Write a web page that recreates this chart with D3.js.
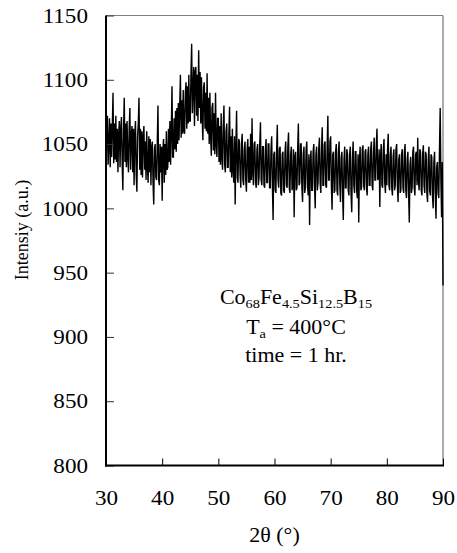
<!DOCTYPE html>
<html>
<head>
<meta charset="utf-8">
<script src="https://cdn.jsdelivr.net/npm/d3@7"></script>
<style>
  body { margin: 0; background: #fff; }
  svg { display: block; }
  text, tspan { font-family: "Liberation Serif", "Times New Roman", serif; fill: #000; }
</style>
</head>
<body>
<svg></svg>
<script>
// scan: 2theta from 30 to 90 in 0.125 deg steps
const scanStart = 30;
const scanStep = 0.125;

// intensity, one row per degree (8 readings per degree)
const intensity = [
  1025, 1066, 1072, 1034, 1050, 1070, 1032, 1066,  // 30
  1040, 1064, 1090, 1035, 1066, 1038, 1072, 1036,  // 31
  1062, 1028, 1058, 1068, 1032, 1062, 1071, 1036,  // 32
  1014, 1062, 1086, 1036, 1066, 1032, 1068, 1040,  // 33
  1028, 1062, 1078, 1030, 1056, 1064, 1028, 1062,  // 34
  1018, 1058, 1068, 1026, 1013, 1056, 1066, 1086,  // 35
  1030, 1062, 1026, 1060, 1024, 1056, 1064, 1030,  // 36
  1052, 1022, 1060, 1032, 1020, 1056, 1028, 1054,  // 37
  1018, 1048, 1052, 1020, 1003, 1046, 1050, 1024,  // 38
  1022, 1050, 1080, 1022, 1018, 1050, 1028, 1048,  // 39
  1006, 1046, 1054, 1020, 1050, 1026, 1060, 1030,  // 40
  1032, 1062, 1036, 1068, 1034, 1060, 1095, 1040,  // 41
  1040, 1070, 1046, 1076, 1044, 1078, 1050, 1082,  // 42
  1053, 1080, 1104, 1055, 1084, 1058, 1092, 1060,  // 43
  1058, 1090, 1098, 1062, 1095, 1066, 1104, 1068,  // 44
  1068, 1104, 1128, 1074, 1092, 1110, 1064, 1106,  // 45
  1110, 1072, 1104, 1068, 1123, 1078, 1106, 1066,  // 46
  1102, 1070, 1053, 1094, 1098, 1062, 1090, 1060,  // 47
  1105, 1058, 1086, 1050, 1090, 1056, 1041, 1078,  // 48
  1082, 1045, 1074, 1042, 1090, 1050, 1040, 1070,  // 49
  1070, 1036, 1064, 1034, 1074, 1040, 1030, 1064,  // 50
  1080, 1034, 1028, 1060, 1066, 1032, 1032, 1058,  // 51
  1079, 1028, 1056, 1024, 1062, 1030, 1020, 1056,  // 52
  1003, 1048, 1076, 1024, 1020, 1054, 1052, 1026,  // 53
  1016, 1050, 1058, 1022, 1018, 1046, 1052, 1022,  // 54
  1013, 1046, 1054, 1020, 1048, 1020, 1058, 1022,  // 55
  1070, 1028, 1018, 1050, 1052, 1020, 1016, 1046,  // 56
  1050, 1018, 1024, 1050, 1067, 1022, 1018, 1048,  // 57
  1048, 1018, 1016, 1046, 1054, 1020, 1020, 1050,  // 58
  1050, 1016, 1016, 1046, 1056, 1018, 991, 1042,   // 59
  1044, 1014, 1012, 1044, 1065, 1022, 1016, 1046,  // 60
  1048, 1012, 1010, 1042, 1044, 1014, 1012, 1044,  // 61
  1052, 1018, 1016, 1048, 1059, 1016, 1012, 1042,  // 62
  1048, 1014, 1018, 1046, 993, 1040, 1044, 1014,   // 63
  1016, 1046, 1066, 1018, 1020, 1050, 1050, 1016,  // 64
  1005, 1042, 1048, 1012, 1016, 1046, 1052, 1018,  // 65
  1010, 1042, 987, 1036, 1045, 1014, 1014, 1044,   // 66
  1050, 1018, 1000, 1042, 1048, 1014, 1020, 1046,  // 67
  1055, 1020, 1012, 1046, 1063, 1018, 1018, 1050,  // 68
  1052, 1018, 1016, 1048, 1072, 1022, 1022, 1052,  // 69
  1056, 1018, 999, 1042, 1044, 1012, 1014, 1044,   // 70
  1050, 1014, 1010, 1044, 1052, 1018, 1005, 1040,  // 71
  1044, 1012, 991, 1038, 1048, 1016, 1016, 1046,   // 72
  1042, 1014, 1010, 1042, 1048, 1012, 997, 1038,   // 73
  1052, 1018, 1012, 1044, 1044, 1014, 1008, 1042,  // 74
  989, 1038, 1048, 1014, 1016, 1046, 1049, 1018,   // 75
  1014, 1044, 1046, 1016, 1010, 1042, 1048, 1018,  // 76
  1018, 1046, 1052, 1018, 1014, 1044, 1055, 1022,  // 77
  1022, 1050, 1062, 1022, 1024, 1046, 1001, 1040,  // 78
  1050, 1018, 1016, 1046, 1054, 1020, 1012, 1042,  // 79
  1018, 1046, 1058, 1018, 1014, 1042, 1048, 1016,  // 80
  1010, 1040, 1046, 1014, 1018, 1046, 1050, 1018,  // 81
  1005, 1038, 1042, 1012, 1014, 1042, 1046, 1016,  // 82
  1012, 1044, 1050, 1014, 1008, 1038, 1044, 1012,  // 83
  989, 1034, 1040, 1012, 1016, 1044, 1048, 1016,   // 84
  1010, 1042, 1044, 1018, 1055, 1022, 1014, 1046,  // 85
  1044, 1014, 1010, 1042, 1049, 1018, 1012, 1044,  // 86
  1042, 1012, 1005, 1038, 1048, 1014, 1010, 1042,  // 87
  1040, 1010, 1000, 1036, 1044, 1012, 992, 1032,   // 88
  1036, 1012, 1008, 1046, 1078, 1022, 993, 1036,   // 89
  940                                              // 90
];

const xTicks = [30, 40, 50, 60, 70, 80, 90];
const yTicks = [800, 850, 900, 950, 1000, 1050, 1100, 1150];

const width = 457;
const height = 553;
const plot = { left: 106, right: 443, top: 15.5, bottom: 465.5 };
const stretch = "scale(1.1,1)"; // the reference type is a bit wide
const serif = "'Liberation Serif', 'Times New Roman', serif";

const svg = d3.select("svg").attr("width", width).attr("height", height);

const xScale = d3.scaleLinear().domain([30, 90]).range([plot.left, plot.right]);
const yScale = d3.scaleLinear().domain([800, 1150]).range([plot.bottom, plot.top]);

const data = intensity.map((v, i) => [scanStart + i * scanStep, v]);

// top and right frame (thin, gray)
svg.append("line")
  .attr("x1", plot.left).attr("x2", plot.right)
  .attr("y1", plot.top).attr("y2", plot.top)
  .attr("stroke", "#808080").attr("stroke-width", 1);
svg.append("line")
  .attr("x1", plot.right).attr("x2", plot.right)
  .attr("y1", plot.top).attr("y2", plot.bottom)
  .attr("stroke", "#808080").attr("stroke-width", 1.3);

// the scan
const line = d3.line()
  .x((d) => xScale(d[0]))
  .y((d) => yScale(d[1]));

svg.append("path")
  .datum(data)
  .attr("fill", "none")
  .attr("stroke", "#000")
  .attr("stroke-width", 1.4)
  .attr("d", line);

// axes, ticks pointing inward
const yAxis = d3.axisLeft(yScale).tickValues(yTicks).tickFormat(d3.format("d"))
  .tickSize(-8).tickPadding(16.4);
const xAxis = d3.axisBottom(xScale).tickValues(xTicks).tickFormat(d3.format("d"))
  .tickSize(-7).tickPadding(25);

const gy = svg.append("g")
  .attr("transform", "translate(" + plot.left + ",0)")
  .call(yAxis)
  .attr("font-family", serif);
gy.select(".domain").remove();
gy.selectAll(".tick line").attr("stroke", "#333").attr("stroke-width", 1);
gy.selectAll(".tick text")
  .style("font-family", serif)
  .style("font-size", "21px")
  .style("fill", "#000")
  .attr("transform", stretch);

const gx = svg.append("g")
  .attr("transform", "translate(0," + plot.bottom + ")")
  .call(xAxis)
  .attr("font-family", serif);
gx.select(".domain").remove();
gx.selectAll(".tick line").attr("stroke", "#000").attr("stroke-width", 1);
gx.selectAll(".tick text")
  .style("font-family", serif)
  .style("font-size", "21px")
  .style("fill", "#000")
  .attr("transform", stretch);

// black left and bottom axis lines
svg.append("line")
  .attr("x1", plot.left).attr("x2", plot.left)
  .attr("y1", plot.top).attr("y2", plot.bottom + 1)
  .attr("stroke", "#000").attr("stroke-width", 2);
svg.append("line")
  .attr("x1", plot.left - 1).attr("x2", plot.right + 1)
  .attr("y1", plot.bottom).attr("y2", plot.bottom)
  .attr("stroke", "#000").attr("stroke-width", 2.2);

// axis titles
svg.append("text")
  .attr("transform", "translate(28,230) rotate(-90)")
  .attr("text-anchor", "middle")
  .style("font-size", "18px")
  .text("Intensiy (a.u.)");

svg.append("g")
  .attr("transform", "translate(" + (plot.left + plot.right) / 2 + ",542)")
  .append("text")
  .attr("transform", stretch)
  .attr("text-anchor", "middle")
  .style("font-size", "20px")
  .text("2θ (°)");

// annotation, subscripts as smaller lowered tspans
const label = (y, parts) => {
  const t = svg.append("g")
    .attr("transform", "translate(296," + y + ")")
    .append("text")
    .attr("transform", stretch)
    .attr("text-anchor", "middle")
    .style("font-size", "20px");
  parts.forEach((p) => {
    const isSub = p[1];
    t.append("tspan")
      .style("font-size", isSub ? "13px" : "20px")
      .style("fill", "#000")
      .attr("dy", isSub ? 4 : (t.selectAll("tspan").size() > 0 ? -4 : 0))
      .text(p[0]);
  });
};

label(308, [["Co", false], ["68", true], ["Fe", false], ["4.5", true],
  ["Si", false], ["12.5", true], ["B", false], ["15", true]]);
label(338, [["T", false], ["a", true], [" = 400°C", false]]);
label(366, [["time = 1 hr.", false]]);
</script>
</body>
</html>
